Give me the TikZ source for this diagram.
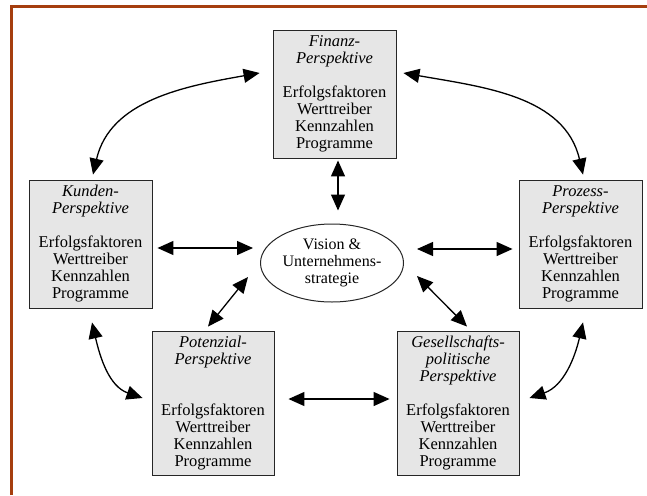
\documentclass[tikz,border=0pt]{standalone}
\usepackage{fontspec}
\setmainfont{Liberation Serif}
\usetikzlibrary{arrows.meta}
\usetikzlibrary{shapes.geometric}
\definecolor{rahmen}{RGB}{165,62,14}
\definecolor{kasten}{RGB}{230,230,230}
\tikzset{persp/.style={draw=black!85, fill=kasten, line width=0.9pt,
  minimum width=123pt, minimum height=128pt, inner sep=0pt, align=center,
  font=\fontsize{16.5}{17}\selectfont}}
\tikzset{hoch/.style={persp, minimum width=122pt, minimum height=144pt}}
\tikzset{vision/.style={ellipse, draw=black!85, line width=1pt, minimum width=143pt,
  minimum height=78pt, inner sep=0pt, align=center, font=\fontsize{16}{17}\selectfont}}
\tikzset{dbl/.style={{Triangle[length=16pt,width=14pt]}-{Triangle[length=16pt,width=14pt]},
  line width=1.3pt}}

\begin{document}
\begin{tikzpicture}[x=1pt,y=-1pt]
      \useasboundingbox (0,0) rectangle (647,495);
      \draw [rahmen, line width=3pt] (11.5,495) -- (11.5,7) -- (647,7);

      \node [persp] (fin) at (334.5,94) {\textit{Finanz-}\\\textit{Perspektive}\\[17pt]Erfolgsfaktoren\\Werttreiber\\Kennzahlen\\Programme};
      \node [persp] (kun) at (90.5,244) {\textit{Kunden-}\\\textit{Perspektive}\\[17pt]Erfolgsfaktoren\\Werttreiber\\Kennzahlen\\Programme};
      \node [persp] (pro) at (580.5,244) {\textit{Prozess-}\\\textit{Perspektive}\\[17pt]Erfolgsfaktoren\\Werttreiber\\Kennzahlen\\Programme};
      \node [hoch] (pot) at (213,403) {\textit{Potenzial-}\\\textit{Perspektive}\\[34pt]Erfolgsfaktoren\\Werttreiber\\Kennzahlen\\Programme};
      \node [hoch] (ges) at (458,403) {\textit{Gesellschafts-}\\\textit{politische}\\\textit{Perspektive}\\[17pt]Erfolgsfaktoren\\Werttreiber\\Kennzahlen\\Programme};
      \node [vision] (vis) at (332,263) {Vision \&\\Unternehmens-\\strategie};

      \draw [dbl] ([shift={(-13,-21)}]fin.west) to[out=190, in=77] ([shift={(2.5,-5)}]kun.north);
      \draw [dbl] ([shift={(7,-21)}]fin.east) to[out=-10, in=103] ([shift={(2.5,-5)}]pro.north);
      \draw [dbl] ([shift={(1.5,14)}]kun.south) to[out=-77, in=161] ([shift={(-9,-5)}]pot.west);
      \draw [dbl] ([shift={(2.5,14)}]pro.south) to[out=-103, in=19] ([shift={(10,-5)}]ges.east);

      \draw [dbl] ([shift={(3.5,2)}]fin.south) -- ([shift={(6,-13)}]vis.north);
      \draw [dbl] ([shift={(5,4)}]kun.east) -- ([shift={(-7,-15)}]vis.west);
      \draw [dbl] ([shift={(13,-14)}]vis.east) -- ([shift={(-6,5)}]pro.west);
      \draw [dbl] ([shift={(-84,14)}]vis.center) -- ([shift={(-5,-4)}]pot.north);
      \draw [dbl] ([shift={(85,13)}]vis.center) -- ([shift={(9,-4)}]ges.north);
      \draw [dbl] ([shift={(14,-4)}]pot.east) -- ([shift={(-7,-4)}]ges.west);
\end{tikzpicture}
\end{document}
